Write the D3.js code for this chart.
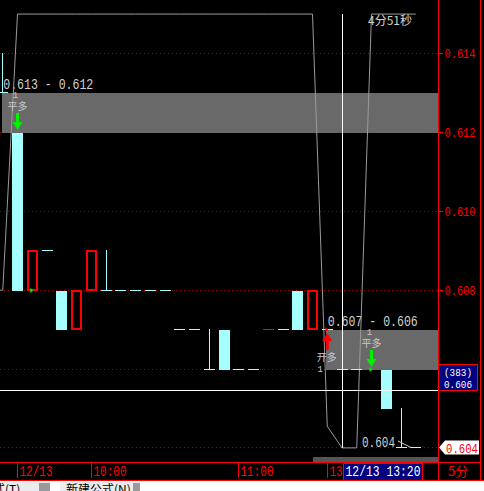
<!DOCTYPE html>
<html>
<head>
<meta charset="utf-8">
<script src="https://cdn.jsdelivr.net/npm/d3@7"></script>
<style>
  html, body { margin: 0; padding: 0; background: #000; overflow: hidden; }
  svg { display: block; }
</style>
</head>
<body>
<script>
// ---- 5-minute bars (null = no bar) ----
const barOpen  = [0.613,0.612,0.608,0.609,0.608,0.607,0.608,0.608,0.608,0.608,0.608,0.608,0.607,0.607,0.606,0.607,0.606,0.606,0.607,0.607,0.608,0.607,0.607,0.606,0.606,null,0.606,0.604,0.604];
const barHigh  = [0.614,0.612,0.609,0.609,0.608,0.608,0.609,0.609,0.608,0.608,0.608,0.608,0.607,0.607,0.607,0.607,0.606,0.606,0.607,0.607,0.608,0.608,0.607,0.606,0.606,null,0.606,0.605,0.604];
const barLow   = [0.613,0.608,0.608,0.609,0.607,0.607,0.608,0.608,0.608,0.608,0.608,0.608,0.607,0.607,0.606,0.606,0.606,0.606,0.607,0.607,0.607,0.607,0.607,0.606,0.606,null,0.605,0.604,0.604];
const barClose = [0.613,0.608,0.609,0.609,0.607,0.608,0.609,0.608,0.608,0.608,0.608,0.608,0.607,0.607,0.606,0.606,0.606,0.606,0.607,0.607,0.607,0.608,0.607,0.606,0.606,null,0.605,0.604,0.604];

// grey state line, one point per bar starting at bar -1
const stateStart = -1;
const stateLine = [0.608,0.608,0.615,0.615,0.615,0.615,0.615,0.615,0.615,0.615,0.615,0.615,0.615,0.615,0.615,0.615,0.615,0.615,0.615,0.615,0.615,0.615,0.615,0.60455,0.604,0.604,0.615,0.615,0.615,0.615];

// price axis
const priceGrid  = [0.604,0.606,0.608,0.610,0.612,0.614];
const priceTicks = [0.606,0.608,0.610,0.612,0.614];

// time axis
const timeTickBars   = [1,6,16,22];
const timeTickLabels = ['12/13','10:00','11:00','13:00'];
const periodLabel = '5分';

// price zones
const zoneStartBar = [0,22];
const zoneHigh     = [0.613,0.607];
const zoneLow      = [0.612,0.606];

// trade signals
const sigBar   = [1,22,25];
const sigText  = ['平多','开多','平多'];
const sigPrice = [0.612,0.607,0.606];
const sigQty   = ['1','1','1'];
const sigUp    = [false,true,false];
const fillBar   = [2,22,25];
const fillPrice = [0.608,0.607,0.606];

// crosshair
const crossBar = 23;
const crossPrice = 0.60547;
const crossCount = '(383)';
const crossTime = '12/13 13:20';
const countdown = '4分51秒';

// ---- layout ----
const W = 484, H = 491;
const plotRight = 438, axisBottomY = 462, chartBottom = 480, outerRight = 480;
const CYAN = '#a6ffff', RED = '#ff0000', GRID = '#a00000', GREEN = '#00f000';
const MONO = "'Liberation Mono', 'DejaVu Sans Mono', monospace";
const CJK  = "'Noto Sans CJK SC', 'Noto Sans', sans-serif";

const svg = d3.select('body').append('svg').attr('width', W).attr('height', H);
svg.append('rect').attr('width', W).attr('height', H).attr('fill', '#000');

const x = d3.scaleLinear().domain([0, 1]).range([2.75, 17.5]);
const y = d3.scaleLinear().domain([0.604, 0.615]).range([447.9, 14.06]);
const row = v => Math.floor(y(v));

svg.append('defs').append('clipPath').attr('id', 'plot')
  .append('rect').attr('x', 0).attr('y', 0).attr('width', plotRight).attr('height', axisBottomY);
const plot = svg.append('g').attr('clip-path', 'url(#plot)');

// grid
plot.append('g').selectAll('line').data(priceGrid).join('line')
  .attr('x1', 0).attr('x2', plotRight)
  .attr('y1', d => row(d) + 0.5).attr('y2', d => row(d) + 0.5)
  .attr('stroke', GRID).attr('stroke-dasharray', '1,3').attr('shape-rendering', 'crispEdges');

// zones
const zones = d3.range(zoneStartBar.length);
plot.append('g').selectAll('rect').data(zones).join('rect')
  .attr('x', i => Math.round(x(zoneStartBar[i])) - 1)
  .attr('y', i => row(zoneHigh[i]) + 1)
  .attr('width', i => plotRight - Math.round(x(zoneStartBar[i])) + 1)
  .attr('height', i => row(zoneLow[i]) - row(zoneHigh[i]))
  .attr('fill', '#696969');
plot.append('g').selectAll('text').data(zones).join('text')
  .attr('x', i => x(zoneStartBar[i]) + 0.5)
  .attr('y', i => row(zoneHigh[i]) - 3)
  .attr('fill', '#d0d0d0').attr('font-family', MONO).attr('font-size', 14)
  .attr('textLength', 90).attr('lengthAdjust', 'spacingAndGlyphs')
  .text(i => `${d3.format('.3f')(zoneHigh[i])} - ${d3.format('.3f')(zoneLow[i])}`);

// grey state line
const line = d3.line().x((d, k) => x(stateStart + k)).y(d => y(d));
plot.append('path').datum(stateLine).attr('d', line)
  .attr('fill', 'none').attr('stroke', '#9a9a9a').attr('stroke-width', 1);

// candles
const bars = d3.range(barOpen.length).filter(i => barOpen[i] != null);
const gC = plot.append('g').attr('shape-rendering', 'crispEdges');
bars.forEach(i => {
  const o = barOpen[i], h = barHigh[i], l = barLow[i], c = barClose[i];
  const prev = i > 0 ? barClose[i - 1] : c;
  const bx = Math.round(x(i) - 5.5);
  const wx = bx + 5.5;
  if (c > o) {
    if (h > c) gC.append('line').attr('x1', wx).attr('x2', wx).attr('y1', row(h)).attr('y2', row(c)).attr('stroke', RED);
    gC.append('rect').attr('x', bx + 1).attr('y', row(c) + 1).attr('width', 9).attr('height', row(o) - row(c) - 1)
      .attr('fill', 'none').attr('stroke', RED).attr('stroke-width', 2);
  } else if (c < o) {
    if (h > o) gC.append('line').attr('x1', wx).attr('x2', wx).attr('y1', row(h)).attr('y2', row(o)).attr('stroke', CYAN);
    gC.append('rect').attr('x', bx).attr('y', row(o) + 1).attr('width', 11).attr('height', row(c) - row(o)).attr('fill', CYAN);
  } else {
    const col = c > prev ? RED : CYAN;
    if (h > c || l < c) gC.append('line').attr('x1', wx).attr('x2', wx).attr('y1', row(h)).attr('y2', row(l) + 1).attr('stroke', col);
    gC.append('line').attr('x1', bx).attr('x2', bx + 11).attr('y1', row(c) + 0.5).attr('y2', row(c) + 0.5).attr('stroke', col);
  }
});

// lowest price marker
const lowVal = d3.min(bars, i => barLow[i]);
const lowBar = bars.find(i => barLow[i] === lowVal);
plot.append('text').attr('x', x(lowBar) - 6).attr('y', row(lowVal))
  .attr('text-anchor', 'end').attr('fill', '#cfcfcf').attr('font-family', MONO).attr('font-size', 14)
  .attr('textLength', 33).attr('lengthAdjust', 'spacingAndGlyphs')
  .text(d3.format('.3f')(lowVal));
plot.append('line').attr('x1', x(lowBar) - 3).attr('y1', row(lowVal) - 6)
  .attr('x2', x(lowBar) + 10).attr('y2', row(lowVal) + 0.5).attr('stroke', '#cfcfcf');

// signals
const gS = plot.append('g');
d3.range(sigBar.length).forEach(k => {
  const cx = x(sigBar[k]);
  const py = row(sigPrice[k]);
  if (!sigUp[k]) {
    const tip = py - 2;
    gS.append('path')
      .attr('d', `M${cx - 1.5},${tip - 17}h3v9h3.5l-5,8l-5,-8h3.5z`)
      .attr('fill', GREEN);
    gS.append('text').attr('x', cx).attr('y', tip - 20).attr('text-anchor', 'middle')
      .attr('fill', '#c8c8c8').attr('font-family', CJK).attr('font-size', 10).text(sigText[k]);
    gS.append('text').attr('x', cx - 2).attr('y', tip - 32).attr('text-anchor', 'middle')
      .attr('fill', '#c8c8c8').attr('font-family', MONO).attr('font-size', 9).text(sigQty[k]);
  } else {
    const top = py + 4;
    gS.append('path')
      .attr('d', `M${cx},${top}l5,8h-3.5v9h-3v-9h-3.5z`)
      .attr('fill', RED);
    gS.append('text').attr('x', cx - 0.5).attr('y', top + 28).attr('text-anchor', 'middle')
      .attr('fill', '#c8c8c8').attr('font-family', CJK).attr('font-size', 10).text(sigText[k]);
    gS.append('text').attr('x', cx - 7).attr('y', top + 39).attr('text-anchor', 'middle')
      .attr('fill', '#c8c8c8').attr('font-family', MONO).attr('font-size', 9).text(sigQty[k]);
  }
  const fx = x(fillBar[k]) - 2, fy = row(fillPrice[k]) + 0.5;
  gS.append('path').attr('d', `M${fx},${fy - 2.5}L${fx + 3},${fy}L${fx},${fy + 2.5}Z`)
    .attr('fill', sigUp[k] ? RED : GREEN);
});

// crosshair
const cX = Math.round(x(crossBar)) + 0.5;
const cY = Math.round(y(crossPrice)) + 0.5;
svg.append('line').attr('x1', 0).attr('x2', plotRight).attr('y1', cY).attr('y2', cY)
  .attr('stroke', '#fff').attr('shape-rendering', 'crispEdges');
svg.append('line').attr('x1', cX).attr('x2', cX).attr('y1', y(0.615)).attr('y2', row(0.604) + 1)
  .attr('stroke', '#fff').attr('shape-rendering', 'crispEdges');

// countdown
svg.append('text').attr('x', 368).attr('y', 25).attr('fill', '#d0d0d0')
  .attr('font-family', CJK).attr('font-size', 12).text(countdown);

// scroll strip
svg.append('rect').attr('x', 313).attr('y', 457).attr('width', plotRight - 313).attr('height', 5).attr('fill', '#555');

// price axis
const yAxis = d3.axisRight(y).tickValues(priceTicks).tickSize(4).tickFormat(d3.format('.3f')).offset(0);
const gy = svg.append('g').attr('transform', `translate(${plotRight + 0.5},0.5)`).call(yAxis);
gy.select('.domain').remove();
gy.selectAll('line').attr('stroke', RED).attr('shape-rendering', 'crispEdges');
gy.selectAll('.tick').attr('transform', d => `translate(0,${row(d)})`);
gy.selectAll('text').attr('fill', RED).attr('font-family', MONO).attr('font-size', 13)
  .attr('x', 6).attr('textLength', 31).attr('lengthAdjust', 'spacingAndGlyphs');

// time axis
const xAxis = d3.axisBottom(x).tickValues(timeTickBars).tickSize(16).offset(0)
  .tickFormat((d, k) => timeTickLabels[k]);
const gx = svg.append('g').attr('transform', `translate(0,${axisBottomY})`).call(xAxis);
gx.select('.domain').remove();
gx.selectAll('.tick').attr('transform', d => `translate(${Math.floor(x(d)) + 0.5},0)`);
gx.selectAll('line').attr('stroke', RED).attr('shape-rendering', 'crispEdges');
gx.selectAll('text').attr('fill', RED).attr('font-family', MONO).attr('font-size', 14)
  .attr('text-anchor', 'start').attr('x', 2).attr('y', 14).attr('dy', 0)
  .attr('textLength', 33).attr('lengthAdjust', 'spacingAndGlyphs');

// frame lines
const frame = svg.append('g').attr('stroke', RED).attr('shape-rendering', 'crispEdges');
frame.append('line').attr('x1', 0).attr('x2', outerRight + 1).attr('y1', axisBottomY + 0.5).attr('y2', axisBottomY + 0.5);
frame.append('line').attr('x1', 0).attr('x2', W).attr('y1', chartBottom + 0.5).attr('y2', chartBottom + 0.5);
frame.append('line').attr('x1', plotRight + 0.5).attr('x2', plotRight + 0.5).attr('y1', 0).attr('y2', chartBottom);
frame.append('line').attr('x1', outerRight + 0.5).attr('x2', outerRight + 0.5).attr('y1', 0).attr('y2', chartBottom);

svg.append('text').attr('x', 448).attr('y', 476).attr('fill', RED)
  .attr('font-family', CJK).attr('font-size', 13).text(periodLabel);

// crosshair time label
svg.append('rect').attr('x', cX + 0.5).attr('y', axisBottomY + 1).attr('width', 79).attr('height', 17)
  .attr('fill', '#000080').attr('stroke', RED).attr('shape-rendering', 'crispEdges');
svg.append('text').attr('x', cX + 3).attr('y', axisBottomY + 14).attr('fill', '#fff')
  .attr('font-family', MONO).attr('font-size', 14)
  .attr('textLength', 75).attr('lengthAdjust', 'spacingAndGlyphs').text(crossTime);

// crosshair price label
const boxBottom = cY;
svg.append('rect').attr('x', plotRight + 0.5).attr('y', boxBottom - 26).attr('width', 39).attr('height', 26)
  .attr('fill', '#000080').attr('stroke', RED).attr('shape-rendering', 'crispEdges');
svg.append('text').attr('x', plotRight + 6).attr('y', boxBottom - 15).attr('fill', '#fff')
  .attr('font-family', MONO).attr('font-size', 11).attr('textLength', 28).attr('lengthAdjust', 'spacingAndGlyphs')
  .text(crossCount);
svg.append('text').attr('x', plotRight + 6).attr('y', boxBottom - 3).attr('fill', '#fff')
  .attr('font-family', MONO).attr('font-size', 11).attr('textLength', 28).attr('lengthAdjust', 'spacingAndGlyphs')
  .text(d3.format('.3f')(barClose[crossBar]));

// last price label
const lastClose = barClose[bars[bars.length - 1]];
const ly = row(lastClose) + 0.5;
svg.append('path')
  .attr('d', `M${plotRight + 1},${ly} L${plotRight + 7},${ly - 7} H${outerRight - 1} V${ly + 7} H${plotRight + 7} Z`)
  .attr('fill', '#fff');
svg.append('text').attr('x', plotRight + 8).attr('y', ly + 5.5).attr('fill', RED)
  .attr('font-family', MONO).attr('font-size', 13).attr('textLength', 32).attr('lengthAdjust', 'spacingAndGlyphs')
  .text(d3.format('.3f')(lastClose));

// window button strip
const strip = svg.append('g');
strip.append('rect').attr('x', 0).attr('y', chartBottom + 1).attr('width', W).attr('height', H - chartBottom - 1).attr('fill', '#fff');
strip.append('rect').attr('x', -4).attr('y', 482).attr('width', 54).attr('height', 14).attr('fill', '#ececec');
strip.append('rect').attr('x', 39).attr('y', 483).attr('width', 11).attr('height', 8).attr('fill', '#9a9a9a');
strip.append('rect').attr('x', 60).attr('y', 482).attr('width', 80).attr('height', 14).attr('fill', '#ececec');
strip.append('rect').attr('x', 133).attr('y', 483).attr('width', 7).attr('height', 8).attr('fill', '#9a9a9a');
strip.append('text').attr('x', -7).attr('y', 494).attr('fill', '#000').attr('font-family', CJK).attr('font-size', 12).text('式(T)...');
strip.append('text').attr('x', 66).attr('y', 494).attr('fill', '#000').attr('font-family', CJK).attr('font-size', 12).text('新建公式(N)');
</script>
</body>
</html>
